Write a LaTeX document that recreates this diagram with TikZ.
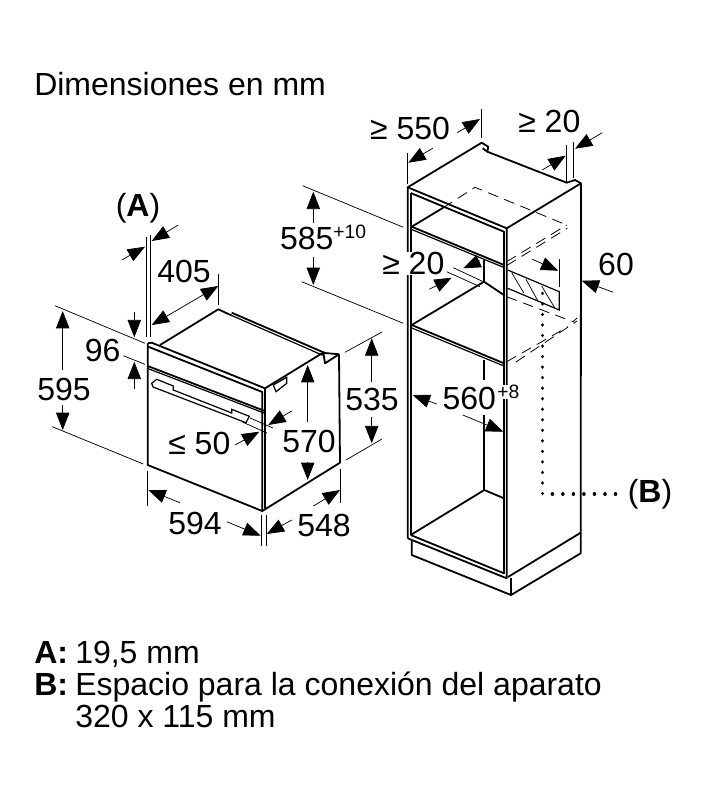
\documentclass[tikz,border=0pt]{standalone}
\usepackage{fontspec}
\setmainfont{Liberation Sans}
\usetikzlibrary{arrows.meta, positioning}

\begin{document}
\begin{tikzpicture}[
    x=0.75pt, y=-0.75pt,
    >={Triangle[length=13pt, width=10pt]},
    body/.style={line width=1.35pt, line join=round},
    thinbody/.style={line width=0.9pt},
    extline/.style={line width=0.55pt},
    dimarrow/.style={line width=0.55pt, ->},
    hidden/.style={line width=0.6pt, dash pattern=on 8pt off 5pt},
    dimtext/.style={inner sep=0pt, font=\fontsize{24}{28}\selectfont},
    suptext/.style={inner sep=0pt, font=\fontsize{14.5}{16}\selectfont}
]
\useasboundingbox (0,0) rectangle (728,800);

% Title and legend
\node (title) [dimtext, anchor=base west] at (34,95) {Dimensiones en mm};
\node (legA) [dimtext, anchor=base west] at (34,663) {\textbf{A:}};
\node (legAtxt) [dimtext, anchor=base west] at (75,663) {19,5 mm};
\node (legB) [dimtext, anchor=base west] at (34,695) {\textbf{B:}};
\node (legBtxt) [dimtext, anchor=base west] at (75,695) {Espacio para la conexión del aparato};
\node (legBtxt2) [dimtext, anchor=base west] at (75,727) {320 x 115 mm};

% Oven front
\draw[body] (147.7,343.3) -- (147.7,465) -- (262.3,511) -- (340,462.7) -- (339,354.3);
\draw[body] (147.7,343.3) -- (151.7,342.7) -- (265,388.3) -- (265,508.3);
\draw[body] (147.7,346.5) -- (262.3,392) -- (262.3,511);
\draw[body] (147.7,366) -- (264,410.7);
\draw[thinbody] (147.7,368.5) -- (264,413);

% Oven top and back
\draw[body] (160,345) -- (218.3,309.3) -- (231.7,315.5);
\draw[body] (231.7,312.7) -- (325,353) -- (339,354.3);
\draw[thinbody] (231.7,315.5) -- (323.3,355.5);
\draw[body] (265,388.3) -- (323.3,352.5) -- (325,363.3) -- (339,354.3);

% Oven handles
\draw[thinbody] (151.7,383.3) -- (156.7,379.3) -- (173.3,386) -- (173.3,390) -- (231.7,413) -- (231.7,409.3) -- (249.3,416.3) -- (246,422.7) -- (153,387) -- cycle;
\draw[thinbody] (273.3,385) -- (286.7,377.3) -- (286.7,383.3) -- (276,391.7) -- cycle;

% Oven dimensions
\draw[extline] (146.3,236.7) -- (146.3,336.7);
\draw[extline] (150,235) -- (150,336.7);
\draw[dimarrow] (121.7,260) -- (145,246.7);
\draw[dimarrow] (178.3,225) -- (151.7,241);
\node (dimA) [dimtext] at (138,208) {(\textbf{A})};

\draw[extline] (218.3,274) -- (218.3,305);
\draw[extline, <->] (151.7,325) -- (218.3,286);
\node (dim405) [dimtext] at (184,271.7) {405};

\draw[extline] (55,305.7) -- (145,343.3);
\draw[extline] (52.3,426.7) -- (143.3,464);
\draw[dimarrow] (62.7,370) -- (62.7,311);
\draw[dimarrow] (62.7,405) -- (62.7,430);
\node (dim595) [dimtext] at (64,389.3) {595};

\draw[extline] (123.3,355.7) -- (145,364.3);
\draw[dimarrow] (134.3,312.3) -- (134.3,337.3);
\draw[dimarrow] (134.3,389.3) -- (134.3,361.7);
\node (dim96) [dimtext] at (102.7,350) {96};

\draw[extline] (345,352.3) -- (382,332);
\draw[extline] (346,460) -- (382,439);
\draw[dimarrow] (371.7,381.7) -- (371.7,338.3);
\draw[dimarrow] (371.7,416.7) -- (371.7,443.3);
\node (dim535) [dimtext] at (372,399) {535};

\draw[dimarrow] (307.7,421.7) -- (307.7,365);
\draw[dimarrow] (307.7,461.7) -- (307.7,480);
\node (dim570) [dimtext] at (309,441.7) {570};

\draw[extline] (250,418) -- (273,428);
\draw[extline] (241.7,421.7) -- (267,433);
\draw[dimarrow] (291.7,411) -- (268.3,425);
\draw[dimarrow] (235,445) -- (259.3,431.7);
\node (dim50) [dimtext] at (199.3,443.3) {≤ 50};

\draw[extline] (147.7,470.7) -- (147.7,506);
\draw[extline] (261.7,515) -- (261.7,545.7);
\draw[extline] (266,515) -- (266,545.7);
\draw[extline] (340,469) -- (340,503);
\draw[dimarrow] (180,502.7) -- (148.3,490);
\draw[dimarrow] (226.7,521.7) -- (260.7,535.7);
\node (dim594) [dimtext] at (195,523.3) {594};
\draw[dimarrow] (291.7,520) -- (266.7,534);
\draw[dimarrow] (313.3,506) -- (340,490);
\node (dim548) [dimtext] at (324,525.7) {548};

% Hatched opening for the connection
\draw[thinbody] (507.7,270) -- (559.3,291.7) -- (559.3,310) -- (507.7,288.3);
\draw[extline] (511.7,272.7) -- (524,293.3);
\draw[extline] (526,279.3) -- (538.3,301.7);
\draw[extline] (541.7,286) -- (555,308.3);

% Cabinet shell
\draw[body] (407.7,538.3) -- (407.7,187.3) -- (481.7,142.7) -- (488.3,146.7) -- (487.3,151.7) -- (482.7,148.3);
\draw[body] (487.3,151.7) -- (566.7,182.7) -- (575,180) -- (581,183.3) -- (580.7,553.3) -- (511,595) -- (411.7,555) -- (411.7,540);
\draw[body] (407.7,187.3) -- (506.7,228.3) -- (581,183.3);
\draw[body] (410.7,193) -- (410.7,535);
\draw[body] (410.7,193) -- (504,231.7) -- (504,573.3) -- (410.7,535);
\draw[body] (506.7,228.3) -- (506.7,578.3) -- (407.7,538.3);
\draw[body] (511,578) -- (511,595);
\draw[body] (508,577) -- (580.7,532.7);

% Shelves and floor
\draw[body] (411.7,226.7) -- (504,265);
\draw[thinbody] (411.7,229.5) -- (504,267.5);
\draw[body] (411.7,226.7) -- (443.3,207.7);
\draw[body] (411.7,325) -- (504,363.3);
\draw[thinbody] (411.7,328) -- (504,366);
\draw[body] (411.7,325) -- (484,281.7) -- (504,295);
\draw[body] (484,260) -- (484,283);
\draw[body] (410.7,535) -- (484.3,490) -- (504,498.3);
\draw[body] (484.3,360) -- (484.3,380);
\draw[body] (484.3,415) -- (484.3,490);

% Hidden outlines
\draw[hidden] (443.3,207.7) -- (475,187.3) -- (566.7,225);
\draw[hidden] (506.7,261.7) -- (566.7,225);
\draw[hidden] (506.7,265.5) -- (567.3,228.3);
\draw[hidden] (506.7,296.7) -- (573,321.7) -- (577,318);
\draw[hidden] (506.7,361.7) -- (568,326.7);
\draw[hidden] (516,362) -- (577,321);

% Connection pointer
\coordinate (ptrA) at (542.3,293.3);
\coordinate (ptrC) at (542.3,494);
\coordinate (ptrB) at (619.3,494);
\draw[line width=2.6pt, line cap=round, dash pattern=on 0.1pt off 7.8pt] (ptrA) -- (ptrC) -- (ptrB);
\node (dimB) [dimtext] at (650,494) {(\textbf{B})};

% Cabinet dimensions
\draw[extline] (481,109) -- (481,138);
\draw[extline] (407.7,152.7) -- (407.7,184);
\draw[dimarrow] (457.3,132.7) -- (480,119);
\draw[dimarrow] (432.7,148.3) -- (408.3,162.7);
\node (dim550) [dimtext] at (410,128.3) {≥ 550};

\draw[extline] (566.7,145) -- (566.7,181.7);
\draw[extline] (573.3,141.7) -- (573.3,178);
\draw[dimarrow] (542.3,170) -- (565.7,155.7);
\draw[dimarrow] (602.3,132.7) -- (575,148.7);
\node (dim20top) [dimtext] at (549.3,121.7) {≥ 20};

\draw[extline] (559.3,259) -- (559.3,286.7);
\draw[dimarrow] (613.3,292.3) -- (581.7,280.7);
\draw[dimarrow] (532.3,259.3) -- (558.3,270.7);
\node (dim60) [dimtext] at (616,264) {60};

\draw[extline] (453.3,267.7) -- (483.3,281.7);
\draw[extline] (446.7,271.7) -- (480,286.7);
\draw[dimarrow] (480,260.7) -- (463.3,268.3);
\draw[dimarrow] (429.3,289.3) -- (451.7,277.7);
\node (dim20mid) [dimtext, fill=white] at (413.3,263.3) {≥ 20};

\draw[extline] (302.7,185.7) -- (403.3,227.3);
\draw[extline] (301.7,281.7) -- (403.3,323.3);
\draw[dimarrow] (313.3,223) -- (313.3,191.7);
\draw[dimarrow] (313.3,256.7) -- (313.3,285);
\node (dim585) [dimtext] at (306.7,238.3) {585};
\node (dim585sup) [suptext, anchor=west] at (333,232) {+10};

\draw[dimarrow] (436.7,404) -- (412.7,395);
\draw[dimarrow] (462.7,415) -- (503.3,431.7);
\node (dim560) [dimtext] at (469.3,398.3) {560};
\node (dim560sup) [suptext, anchor=west, fill=white] at (497,392) {+8};

\end{tikzpicture}
\end{document}
